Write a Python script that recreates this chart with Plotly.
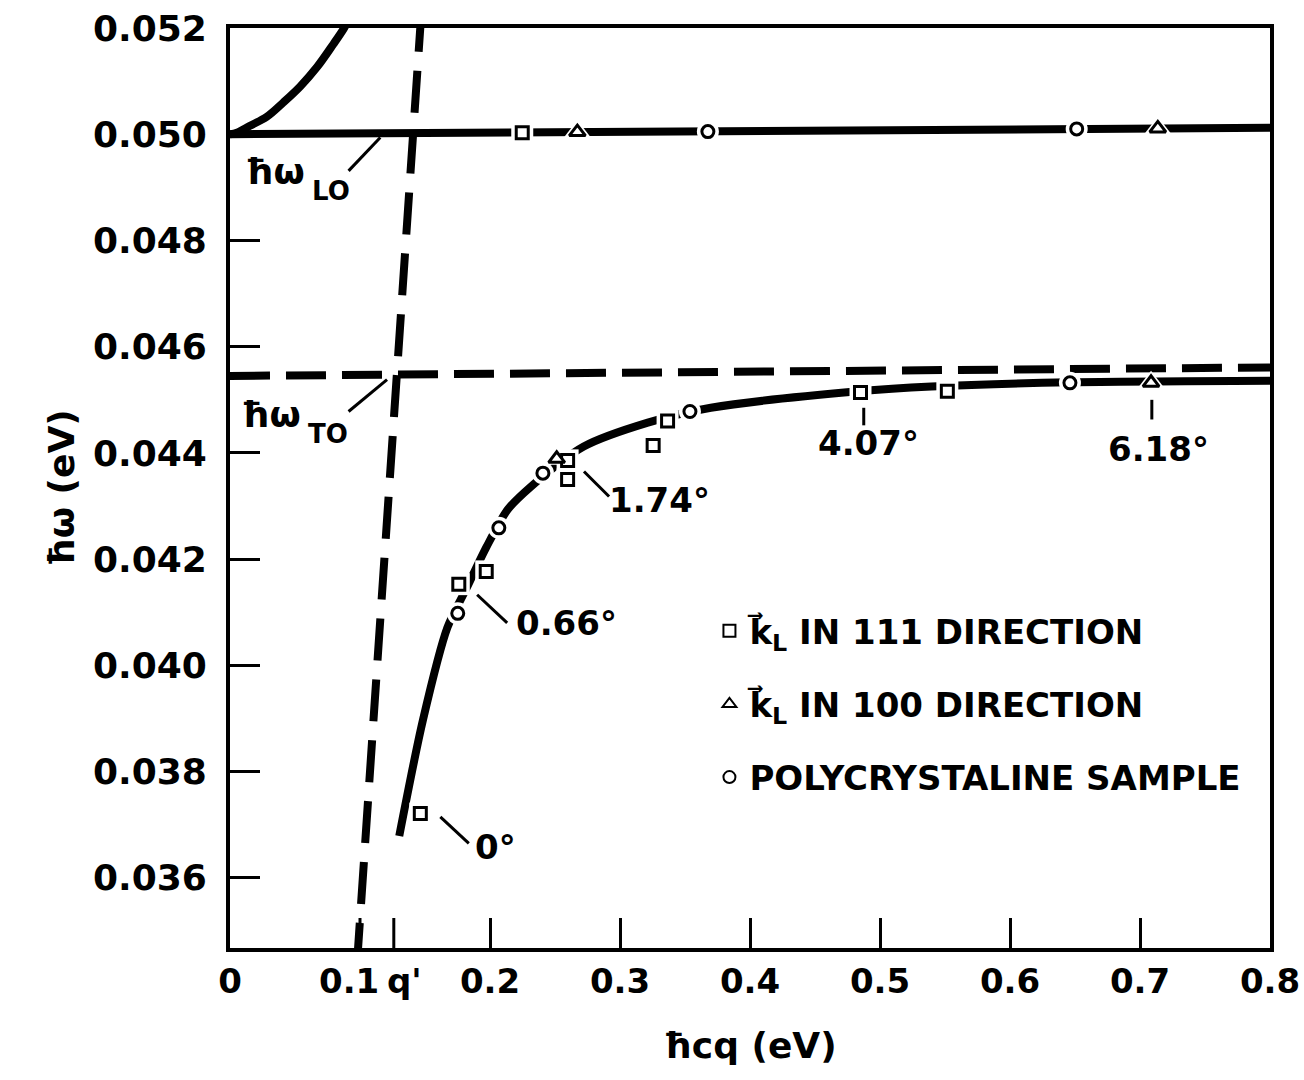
import plotly.graph_objects as go

# ---------------- axis ticks ----------------
x_tickvals = [0, 0.2, 0.3, 0.4, 0.5, 0.6, 0.7, 0.8]
x_ticktext = ["0", "0.2", "0.3", "0.4", "0.5", "0.6", "0.7", "0.8"]
# the two crowded ticks (0.1 and q') and where their labels sit, set slightly apart as in the original
x_extra_ticks = [0.1, 0.126]
x_extra_text = ["0.1", "q'"]
x_extra_pos = [0.0915, 0.1345]
y_tickvals = [0.036, 0.038, 0.040, 0.042, 0.044, 0.046, 0.048, 0.050, 0.052]
y_ticktext = ["0.036", "0.038", "0.040", "0.042", "0.044", "0.046", "0.048", "0.050", "0.052"]

# ---------------- measured points ----------------
# k_L in 111 direction (squares)
sq_x = [0.1464, 0.1760, 0.1971, 0.2597, 0.2597, 0.3255, 0.3366, 0.4850, 0.5518, 0.2248]
sq_y = [0.03721, 0.04153, 0.04177, 0.04386, 0.04350, 0.04414, 0.04460, 0.04514, 0.04516, 0.05003]
# k_L in 100 direction (triangles)
tri_x = [0.2513, 0.7085, 0.2672, 0.7137]
tri_y = [0.04389, 0.04532, 0.05004, 0.05011]
# polycrystaline sample (circles)
cir_x = [0.1752, 0.2068, 0.2407, 0.3538, 0.6461, 0.3676, 0.6513]
cir_y = [0.04098, 0.04259, 0.04362, 0.04478, 0.04532, 0.05005, 0.05010]

# ---------------- curves ----------------
# lower polariton branch (solid)
low_x = [0.1302, 0.1484, 0.1672, 0.1823, 0.1973, 0.2135, 0.2312, 0.2721, 0.3214, 0.3699, 0.4832, 0.5395, 0.6459, 0.8000]
low_y = [0.03679, 0.03897, 0.04071, 0.04147, 0.04223, 0.04293, 0.04336, 0.04412, 0.04457, 0.04485, 0.04516, 0.04525, 0.04533, 0.04536]
# upper polariton branch (solid)
up_x = [0.0000, 0.0052, 0.0154, 0.0283, 0.0411, 0.0540, 0.0668, 0.0796, 0.0873, 0.0900]
up_y = [0.05000, 0.05003, 0.05016, 0.05033, 0.05060, 0.05090, 0.05126, 0.05170, 0.05198, 0.05210]
# longitudinal optical phonon energy (solid)
lo_x = [0.0, 0.8]
lo_y = [0.05000, 0.05012]
# transverse optical phonon energy (dashed)
to_x = [0.0, 0.8]
to_y = [0.04545, 0.04561]
# photon line (dashed)
ph_x = [0.1473, 0.0983]
ph_y = [0.05234, 0.03460]

FONT = "DejaVu Sans"
LW = 8

fig = go.Figure()

fig.add_trace(go.Scatter(x=up_x, y=up_y, mode="lines",
                         line=dict(color="black", width=LW, shape="spline", smoothing=1.0),
                         showlegend=False, hoverinfo="skip"))
fig.add_trace(go.Scatter(x=lo_x, y=lo_y, mode="lines", line=dict(color="black", width=LW),
                         showlegend=False, hoverinfo="skip"))
fig.add_trace(go.Scatter(x=to_x, y=to_y, mode="lines", line=dict(color="black", width=LW, dash="40px,16px"),
                         showlegend=False, hoverinfo="skip"))
fig.add_trace(go.Scatter(x=ph_x, y=ph_y, mode="lines", line=dict(color="black", width=LW, dash="42px,19px"),
                         showlegend=False, hoverinfo="skip"))
fig.add_trace(go.Scatter(x=low_x, y=low_y, mode="lines",
                         line=dict(color="black", width=LW, shape="spline", smoothing=0.8),
                         showlegend=False, hoverinfo="skip"))

# white halos to break the lines around the symbols
for xs, ys, sym, sz in [(sq_x, sq_y, "square", 22), (tri_x, tri_y, "triangle-up", 24), (cir_x, cir_y, "circle", 22)]:
    fig.add_trace(go.Scatter(x=xs, y=ys, mode="markers",
                             marker=dict(symbol=sym, size=sz, color="white", line=dict(width=0)),
                             showlegend=False, hoverinfo="skip"))

fig.add_trace(go.Scatter(x=sq_x, y=sq_y, mode="markers", name="k\u20d7<sub>L</sub> IN 111 DIRECTION",
                         legendgroup="a",
                         marker=dict(symbol="square", size=12, color="white", line=dict(color="black", width=3))))
fig.add_trace(go.Scatter(x=tri_x, y=tri_y, mode="markers", name="k\u20d7<sub>L</sub> IN 100 DIRECTION",
                         legendgroup="b",
                         marker=dict(symbol="triangle-up", size=14, color="white", line=dict(color="black", width=3))))
fig.add_trace(go.Scatter(x=cir_x, y=cir_y, mode="markers", name="POLYCRYSTALINE SAMPLE",
                         legendgroup="c",
                         marker=dict(symbol="circle", size=12, color="white", line=dict(color="black", width=3))))

# pointer lines
pointers = [
    (0.0912, 0.04931, 0.1156, 0.04994),   # hw_LO
    (0.0912, 0.04478, 0.1208, 0.04538),   # hw_TO
    (0.2723, 0.04365, 0.2916, 0.04318),   # 1.74
    (0.1901, 0.04133, 0.2132, 0.04080),   # 0.66
    (0.1618, 0.03715, 0.1837, 0.03665),   # 0
    (0.4875, 0.04485, 0.4875, 0.04452),   # 4.07
    (0.7091, 0.04500, 0.7091, 0.04463),   # 6.18
]
for x0, y0, x1, y1 in pointers:
    fig.add_shape(type="line", x0=x0, y0=y0, x1=x1, y1=y1, xref="x", yref="y",
                  line=dict(color="black", width=3))

# tick marks for the crowded ticks (same look as the axis ticks)
for xv in x_extra_ticks:
    fig.add_shape(type="line", x0=xv, x1=xv, y0=0, y1=30 / 920, xref="x", yref="paper",
                  line=dict(color="black", width=3))

labels = [
    ("1.74\u00b0", 0.3306, 0.04312, 34),
    ("0.66\u00b0", 0.2590, 0.04080, 34),
    ("0\u00b0", 0.2042, 0.03658, 34),
    ("4.07\u00b0", 0.4909, 0.04419, 34),
    ("6.18\u00b0", 0.7145, 0.04408, 34),
    ("\u0127\u03c9", 0.0347, 0.04930, 36),
    ("LO", 0.0778, 0.04894, 26),
    ("\u0127\u03c9", 0.0316, 0.04472, 36),
    ("TO", 0.0755, 0.04436, 26),
]
for txt, x, y, s in labels:
    fig.add_annotation(x=x, y=y, xref="x", yref="y", text=txt, showarrow=False,
                       font=dict(family=FONT, size=s, color="black", weight="bold"))

for txt, x in zip(x_extra_text, x_extra_pos):
    fig.add_annotation(x=x, y=-0.0357, xref="x", yref="paper", text=txt, showarrow=False,
                       yanchor="middle", xanchor="center",
                       font=dict(family=FONT, size=34, color="black", weight="bold"))

fig.update_xaxes(range=[0, 0.8], tickvals=x_tickvals, ticktext=x_ticktext, tickangle=0,
                 ticks="inside", ticklen=30, tickwidth=3, tickcolor="black",
                 showline=True, linewidth=4, linecolor="black", mirror=True,
                 showgrid=False, zeroline=False, ticklabelstandoff=0,
                 tickfont=dict(family=FONT, size=34, color="black", weight="bold"),
                 title=dict(text="\u00a0\u00a0\u00a0\u0127cq (eV)", standoff=34,
                            font=dict(family=FONT, size=36, color="black", weight="bold")))
fig.update_yaxes(range=[0.03468, 0.052], tickvals=y_tickvals, ticktext=y_ticktext,
                 ticks="inside", ticklen=30, tickwidth=3, tickcolor="black",
                 showline=True, linewidth=4, linecolor="black", mirror=True,
                 showgrid=False, zeroline=False, ticklabelstandoff=12,
                 tickfont=dict(family=FONT, size=36, color="black", weight="bold"),
                 title=dict(text="\u00a0\u00a0\u0127\u03c9 (eV)", standoff=8,
                            font=dict(family=FONT, size=36, color="black", weight="bold")))

fig.update_layout(
    width=1304, height=1080,
    margin=dict(l=230, r=34, t=28, b=132, autoexpand=False),
    plot_bgcolor="white", paper_bgcolor="white",
    font=dict(family=FONT, color="black"),
    legend=dict(x=0.461, y=0.376, xanchor="left", yanchor="top",
                traceorder="grouped", tracegroupgap=26, itemsizing="constant",
                bgcolor="rgba(0,0,0,0)", borderwidth=0,
                font=dict(family=FONT, size=34, color="black", weight="bold")),
)

fig.write_html("out.html")
